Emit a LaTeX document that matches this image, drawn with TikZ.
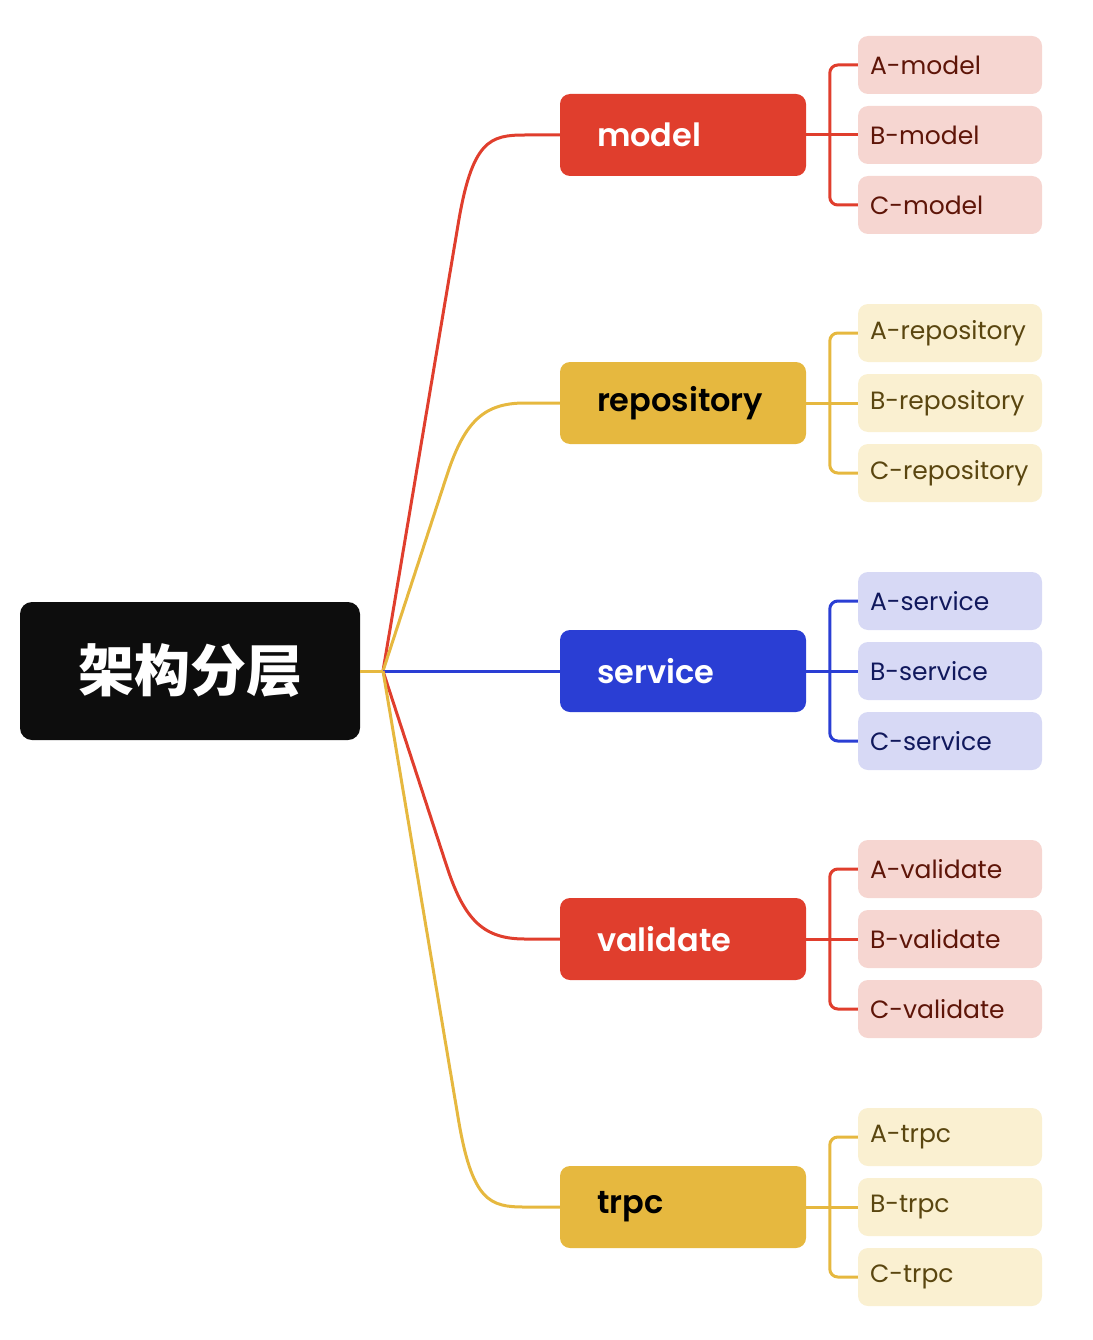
\documentclass[tikz,border=0pt]{standalone}
\usepackage{fontspec}
\setmainfont{Poppins}[BoldFont={Poppins SemiBold}]
\newfontfamily\cjk{Noto Sans CJK SC}
\usetikzlibrary{positioning,calc}
\definecolor{rootblack}{HTML}{0D0D0D}
\definecolor{redc}{HTML}{E03E2D}
\definecolor{yelc}{HTML}{E6B83F}
\definecolor{bluec}{HTML}{2A3ED4}
\definecolor{redleaf}{HTML}{F6D6D1}
\definecolor{yelleaf}{HTML}{FAF0D1}
\definecolor{blueleaf}{HTML}{D7D9F5}
\definecolor{redtext}{HTML}{5E1508}
\definecolor{yeltext}{HTML}{5A4610}
\definecolor{bluetext}{HTML}{10185C}
\hyphenpenalty=10000

\begin{document}
\begin{tikzpicture}[x=1pt, y=-1pt,
  root/.style={fill=rootblack, rounded corners=12pt, minimum width=340pt, minimum height=138pt,
    text=white, font=\cjk\bfseries\fontsize{56}{60}\selectfont},
  topic/.style={rounded corners=10pt, minimum height=82pt, text width=172pt, inner xsep=37pt,
    align=left, font=\bfseries\fontsize{32}{35}\selectfont},
  leaf/.style={rounded corners=10pt, minimum height=58pt, text width=160pt, inner xsep=12pt,
    align=left, font=\fontsize{25}{28}\selectfont},
  redleaf/.style={leaf, fill=redleaf, text=redtext},
  yelleaf/.style={leaf, fill=yelleaf, text=yeltext},
  blueleaf/.style={leaf, fill=blueleaf, text=bluetext},
  link/.style={line width=3pt},
  bracket/.style={line width=3pt, rounded corners=8pt}
]
\useasboundingbox (0,0) rectangle (1092,1340);

\node[root] (root) at (190,671) {架构分层};
\coordinate (hub) at (383,671);

\node[topic, fill=redc, text=white] (model) at (683,135) {model};
\node[topic, fill=yelc, text=black] (repository) at (683,403) {repository};
\node[topic, fill=bluec, text=white] (service) at (683,671) {service};
\node[topic, fill=redc, text=white] (validate) at (683,939) {validate};
\node[topic, fill=yelc, text=black] (trpc) at (683,1207) {trpc};

% branches from the root
\draw[link, redc] (hub) -- (458,225) .. controls (472,140) and (490,135) .. (525,135) -- (model.west);
\draw[link, yelc] (hub) -- (447,475) .. controls (465,420) and (485,403) .. (525,403) -- (repository.west);
\draw[link, bluec] (hub) -- (service.west);
\draw[link, redc] (hub) -- (447,867) .. controls (465,922) and (485,939) .. (525,939) -- (validate.west);
\draw[link, yelc] (hub) -- (458,1117) .. controls (472,1202) and (490,1207) .. (525,1207) -- (trpc.west);
\draw[link, yelc] (root.east) -- (hub);

% leaves
\foreach \g/\y/\s/\c in {model/135/redleaf/redc, repository/403/yelleaf/yelc,
    service/671/blueleaf/bluec, validate/939/redleaf/redc, trpc/1207/yelleaf/yelc} {
  \node[\s] (A-\g) at (950,\y-70) {A-\g};
  \node[\s] (B-\g) at (950,\y) {B-\g};
  \node[\s] (C-\g) at (950,\y+70) {C-\g};
  \draw[bracket, \c] (A-\g.west) -- ++(-28,0) |- (C-\g.west);
  \draw[link, \c] (\g.east) -- (B-\g.west);
}
\end{tikzpicture}
\end{document}
